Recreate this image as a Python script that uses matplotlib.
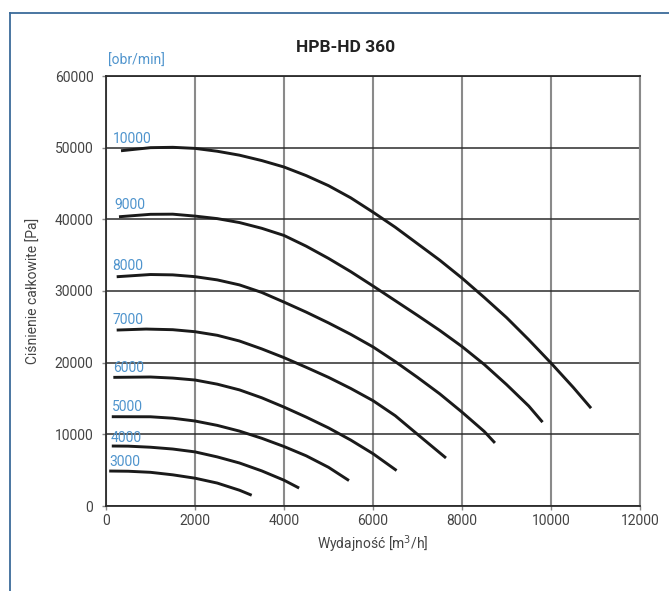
import matplotlib
matplotlib.use("Agg")
import matplotlib.pyplot as plt
from matplotlib.lines import Line2D

plt.rcParams['font.family'] = ['Roboto', 'DejaVu Sans']

# speed curves, [obr/min]
speeds = ["10000", "9000", "8000", "7000", "6000", "5000", "4000", "3000"]

q_10000 = [337, 1000, 1500, 2000, 2500, 3000, 3500, 4000, 4500, 5000, 5500, 6000, 6500,
           7000, 7500, 8000, 8500, 9000, 9500, 10000, 10500, 10900]
p_10000 = [49570, 50000, 50050, 49900, 49500, 48950, 48200, 47300, 46100, 44700, 43000, 41000, 38900,
           36600, 34300, 31800, 29100, 26300, 23200, 19950, 16550, 13650]

q_9000 = [292, 1000, 1500, 2000, 2500, 3000, 3500, 4000, 4500, 5000, 5500, 6000, 6500,
          7000, 7500, 8000, 8500, 9000, 9500, 9810]
p_9000 = [40360, 40700, 40720, 40450, 40100, 39550, 38750, 37750, 36250, 34550, 32700, 30700, 28650,
          26600, 24500, 22250, 19750, 16950, 13950, 11700]

q_8000 = [240, 1000, 1500, 2000, 2500, 3000, 3500, 4000, 4500, 5000, 5500, 6000, 6500,
          7000, 7500, 8000, 8500, 8740]
p_8000 = [31990, 32300, 32250, 32000, 31550, 30850, 29800, 28450, 27050, 25550, 23950, 22200, 20150,
          17950, 15650, 13100, 10400, 8800]

q_7000 = [240, 900, 1500, 2000, 2500, 3000, 3500, 4000, 4500, 5000, 5500, 6000, 6500, 7000, 7640]
p_7000 = [24550, 24690, 24600, 24320, 23820, 23020, 21920, 20700, 19350, 17950, 16400, 14700, 12600, 10000, 6700]

q_6000 = [165, 1000, 1500, 2000, 2500, 3000, 3500, 4000, 4500, 5000, 5500, 6000, 6530]
p_6000 = [17950, 18000, 17850, 17580, 17000, 16200, 15100, 13800, 12400, 10900, 9200, 7300, 4950]

q_5000 = [130, 1000, 1500, 2000, 2500, 3000, 3500, 4000, 4500, 5000, 5460]
p_5000 = [12460, 12450, 12250, 11860, 11250, 10450, 9450, 8300, 7000, 5400, 3550]

q_4000 = [130, 500, 1000, 1500, 2000, 2500, 3000, 3500, 4000, 4340]
p_4000 = [8370, 8350, 8200, 7950, 7550, 6850, 6000, 4900, 3600, 2500]

q_3000 = [72, 500, 1000, 1500, 2000, 2500, 3000, 3274]
p_3000 = [4880, 4850, 4700, 4350, 3880, 3200, 2200, 1500]

curves_q = [q_10000, q_9000, q_8000, q_7000, q_6000, q_5000, q_4000, q_3000]
curves_p = [p_10000, p_9000, p_8000, p_7000, p_6000, p_5000, p_4000, p_3000]

# label anchor (left x, centre y) for each speed label
label_x = [150, 185, 150, 150, 165, 130, 100, 70]
label_y = [51200, 42000, 33500, 25900, 19200, 13800, 9500, 6150]

x_ticks = [0, 2000, 4000, 6000, 8000, 10000, 12000]
y_ticks = [0, 10000, 20000, 30000, 40000, 50000, 60000]

blue = "#4f94cd"

fig = plt.figure(figsize=(6.69, 5.91), dpi=100)
ax = fig.add_axes([106 / 669, 1 - 506 / 591, 534 / 669, 430 / 591])

ax.set_xlim(0, 12000)
ax.set_ylim(0, 60000)
ax.set_xticks(x_ticks)
ax.set_yticks(y_ticks)
ax.tick_params(axis='both', labelsize=10, colors="#888888", labelcolor="#444444", length=3, width=1)
ax.tick_params(axis='y', pad=6)
ax.tick_params(axis='x', pad=3)

# grid: gray verticals, dark horizontals
ax.xaxis.grid(True, color="#8a8a8a", linewidth=1.5)
ax.yaxis.grid(True, color="#2b2b2b", linewidth=1.1)
ax.set_axisbelow(True)
for side in ['left', 'bottom', 'top']:
    ax.spines[side].set_color("#2b2b2b")
    ax.spines[side].set_linewidth(1.3)
ax.spines['right'].set_color("#8a8a8a")
ax.spines['right'].set_linewidth(1.5)

for q, p in zip(curves_q, curves_p):
    ax.plot(q, p, color="#1a1a1a", linewidth=2.1, solid_capstyle='butt', solid_joinstyle='round')

for name, lx, ly in zip(speeds, label_x, label_y):
    ax.text(lx, ly, name, color=blue, fontsize=10, ha='left', va='center')

ax.set_xlabel("Wydajność [m$^3$/h]", fontsize=10, color="#444444", labelpad=4)
ax.set_ylabel("Ciśnienie całkowite [Pa]", fontsize=10, color="#444444", labelpad=10)

fig.text(346 / 669, 1 - 47 / 591, "HPB-HD 360", fontsize=12.5, fontweight='bold',
         color="#222222", ha='center', va='center')
fig.text(108 / 669, 1 - 61 / 591, "[obr/min]", fontsize=10, color=blue,
         ha='left', va='center')

# outer frame (left and top edges only visible)
frame_color = "#3b6b9a"
fig.add_artist(Line2D([9.5 / 669, 9.5 / 669], [0, 1 - 12.5 / 591], color=frame_color, linewidth=1.3))
fig.add_artist(Line2D([9.5 / 669, 1], [1 - 12.5 / 591, 1 - 12.5 / 591], color=frame_color, linewidth=1.3))

fig.savefig("out.png", dpi=100)
